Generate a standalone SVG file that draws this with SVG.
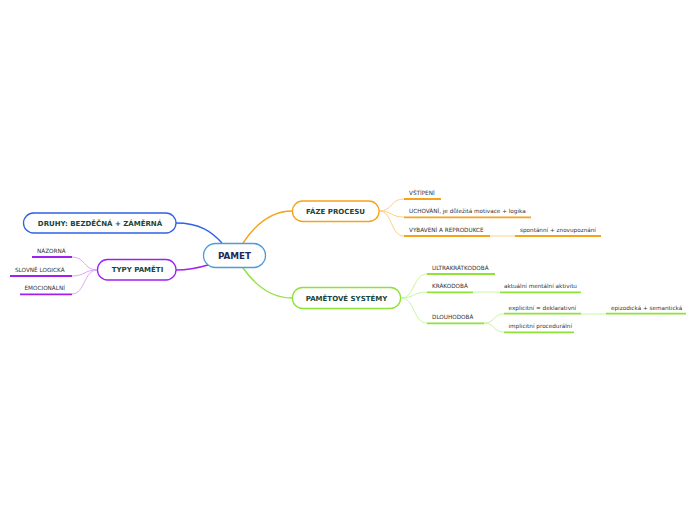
<svg xmlns="http://www.w3.org/2000/svg" width="696" height="520" viewBox="0 0 696 520">
<style>
.node{fill:#fff;stroke-width:1.3}
.nt{font-family:"DejaVu Sans",Verdana,sans-serif;font-weight:bold;font-size:7px;fill:#17453a;text-anchor:middle}
.lt{font-family:"DejaVu Sans",Verdana,sans-serif;font-size:5.7px;fill:#333}
.main{fill:none;stroke-width:1.4}
.sub{fill:none;stroke-width:1}
.ul{stroke-width:1.8;fill:none}
.blue{stroke:#2f62e6}.pur{stroke:#a020f0}.ora{stroke:#f5a31a}.grn{stroke:#8fe23a}
.lpur{stroke:#dda6f8}.lora{stroke:#fcd08a}.lgrn{stroke:#c9f5a0}
</style>
<rect width="696" height="520" fill="#fff"/>
<g id="connectors">
<path class="main blue" d="M176,223 C200,223 212,232 222,243"/>
<path class="main pur" d="M176,270 C190,270 198,268 208,265"/>
<path class="main ora" d="M243,243 C255,225 270,211 292,211"/>
<path class="main grn" d="M243,268 C255,285 270,298 292,298"/>
<path class="sub lpur" d="M97,270 C84,270 85,257 72,257"/>
<path class="sub lpur" d="M97,270 C84,270 85,276 72,276"/>
<path class="sub lpur" d="M97,270 C84,270 85,294 72,294"/>
<path class="sub lora" d="M379,211 C393,211 390,199 404,199"/>
<path class="sub lora" d="M379,211 C393,211 390,217 404,217"/>
<path class="sub lora" d="M379,211 C393,211 390,236 404,236"/>
<path class="sub lora" d="M490,236 L515,236"/>
<path class="sub lgrn" d="M401,298 C415,298 413,274 427,274"/>
<path class="sub lgrn" d="M401,298 C415,298 413,292 427,292"/>
<path class="sub lgrn" d="M401,298 C415,298 413,323 427,323"/>
<path class="sub lgrn" d="M473,292 L500,292"/>
<path class="sub lgrn" d="M484,323 C495,323 493,314 504,314"/>
<path class="sub lgrn" d="M484,323 C495,323 493,332 504,332"/>
<path class="sub lgrn" d="M581,314 L606,314"/>
</g>
<g id="pamet">
<rect class="node" x="203.5" y="243.5" width="62" height="24" rx="12" stroke="#4f9ad8"/>
<text class="nt" x="234.5" y="258.8" style="font-size:8.8px;fill:#1b2a5c">PAMET</text>
</g>
<g id="druhy">
<rect class="node" x="23.5" y="213" width="152.5" height="20" rx="10" stroke="#2f62e6"/>
<text class="nt" x="100" y="225.6">DRUHY: BEZDĚČNÁ + ZÁMĚRNÁ</text>
</g>
<g id="typy">
<rect class="node" x="97.5" y="259.5" width="78.5" height="20.5" rx="10" stroke="#a020f0"/>
<text class="nt" x="137.5" y="272.3">TYPY PAMĚTI</text>
</g>
<g id="faze">
<rect class="node" x="292.5" y="201" width="86.5" height="20.5" rx="10" stroke="#f5a31a"/>
<text class="nt" x="335.5" y="213.8">FÁZE PROCESU</text>
</g>
<g id="systemy">
<rect class="node" x="292.5" y="287.5" width="108" height="21" rx="10" stroke="#8fe23a"/>
<text class="nt" x="346.5" y="300.5">PAMĚTOVÉ SYSTÉMY</text>
</g>
<g id="nazorna">
<line class="ul pur" x1="32" y1="257" x2="72" y2="257"/>
<text class="lt" x="37" y="253">NÁZORNÁ</text>
</g>
<g id="slovne">
<line class="ul pur" x1="10" y1="276" x2="72" y2="276"/>
<text class="lt" x="15" y="272">SLOVNĚ LOGICKÁ</text>
</g>
<g id="emocionalni">
<line class="ul pur" x1="20" y1="294.3" x2="72" y2="294.3"/>
<text class="lt" x="24.5" y="290.3">EMOCIONÁLNÍ</text>
</g>
<g id="vstipeni">
<line class="ul ora" x1="404" y1="199" x2="441" y2="199"/>
<text class="lt" x="409" y="195">VŠTÍPENÍ</text>
</g>
<g id="uchovani">
<line class="ul ora" x1="404" y1="217.3" x2="531" y2="217.3"/>
<text class="lt" x="409" y="213.3">UCHOVÁNÍ, je důležitá motivace + logika</text>
</g>
<g id="vybaveni">
<line class="ul ora" x1="404" y1="236" x2="490" y2="236"/>
<text class="lt" x="409" y="232">VYBAVENÍ A REPRODUKCE</text>
</g>
<g id="spontanni">
<line class="ul ora" x1="515" y1="236" x2="601" y2="236"/>
<text class="lt" x="520" y="232">spontánní + znovupoznání</text>
</g>
<g id="ultra">
<line class="ul grn" x1="427" y1="274" x2="495" y2="274"/>
<text class="lt" x="432" y="270">ULTRAKRÁTKODOBÁ</text>
</g>
<g id="krako">
<line class="ul grn" x1="427" y1="292.3" x2="473" y2="292.3"/>
<text class="lt" x="432" y="288.3">KRÁKODOBÁ</text>
</g>
<g id="aktualni">
<line class="ul grn" x1="500" y1="292.3" x2="581" y2="292.3"/>
<text class="lt" x="504" y="288.3">aktuální mentální aktivitu</text>
</g>
<g id="dlouho">
<line class="ul grn" x1="427" y1="323.3" x2="484" y2="323.3"/>
<text class="lt" x="432" y="319.3">DLOUHODOBÁ</text>
</g>
<g id="explicitni">
<line class="ul grn" x1="504" y1="313.7" x2="581" y2="313.7"/>
<text class="lt" x="508.5" y="309.7">explicitní = deklarativní</text>
</g>
<g id="epizodicka">
<line class="ul grn" x1="606" y1="313.7" x2="686" y2="313.7"/>
<text class="lt" x="611" y="309.7">epizodická + semantická</text>
</g>
<g id="implicitni">
<line class="ul grn" x1="504" y1="332.3" x2="574" y2="332.3"/>
<text class="lt" x="508.5" y="328.3">implicitní procedurální</text>
</g>
</svg>
